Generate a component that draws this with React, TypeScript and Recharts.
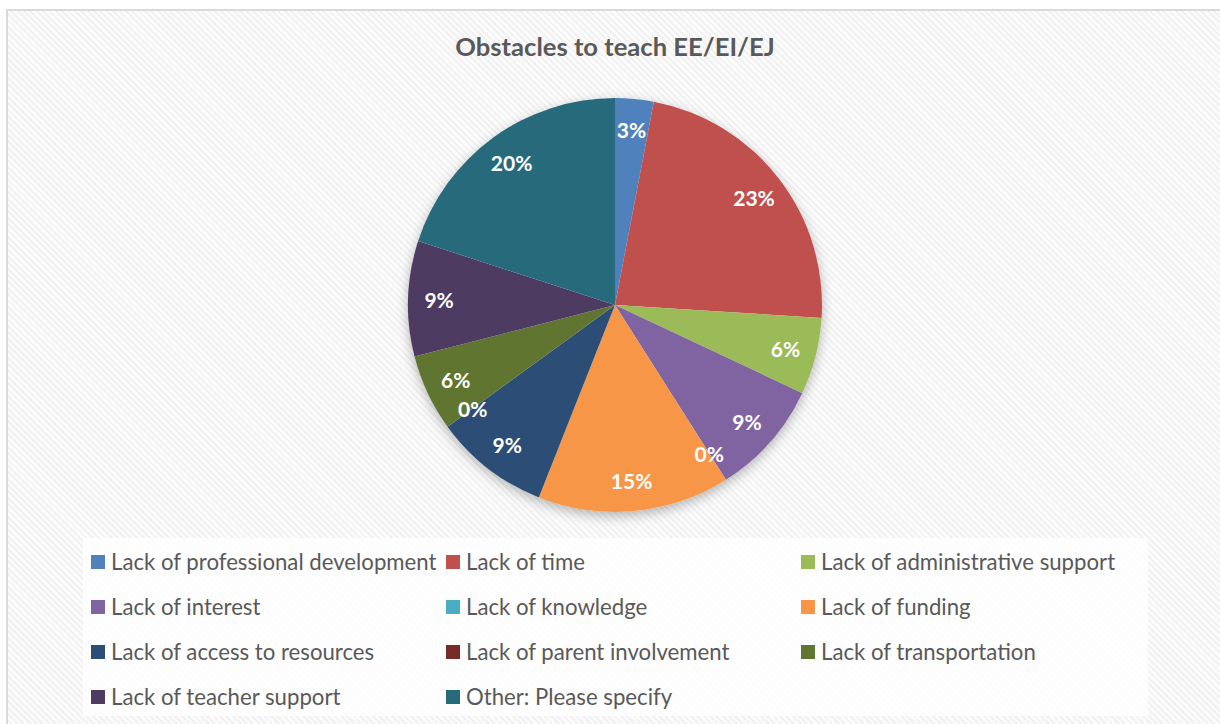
import React from "react";
import { PieChart, Pie, Cell, Legend } from "recharts";

const categories = [
  "Lack of professional development",
  "Lack of time",
  "Lack of administrative support",
  "Lack of interest",
  "Lack of knowledge",
  "Lack of funding",
  "Lack of access to resources",
  "Lack of parent involvement",
  "Lack of transportation",
  "Lack of teacher support",
  "Other: Please specify",
];
const percentages = [3, 23, 6, 9, 0, 15, 9, 0, 6, 9, 20];
const colors = [
  "#4F81BD",
  "#C0504D",
  "#9BBB59",
  "#8064A2",
  "#4BACC6",
  "#F79646",
  "#2C4D75",
  "#772C2A",
  "#5F7530",
  "#4D3B62",
  "#276A7C",
];
const title = "Obstacles to teach EE/EI/EJ";

const data = categories.map((name, i) => ({ name, value: percentages[i] }));

const FONT = "Lato, 'Open Sans', sans-serif";
const RAD = Math.PI / 180;

const CX = 615;
const CY = 305;
const R = 207;

const renderLabel = (props: any) => {
  const { cx, cy, midAngle, outerRadius, value } = props;
  const r = outerRadius * 0.85;
  const x = cx + r * Math.cos(-midAngle * RAD);
  const y = cy + r * Math.sin(-midAngle * RAD);
  return (
    <text
      x={x}
      y={y}
      fill="#FFFFFF"
      textAnchor="middle"
      dominantBaseline="central"
      fontFamily={FONT}
      fontWeight={700}
      fontSize={21}
    >
      {`${value}%`}
    </text>
  );
};

const LegendContent = () => (
  <div
    style={{
      display: "grid",
      gridTemplateColumns: "355px 355px 355px",
      gridAutoRows: "45px",
      fontFamily: FONT,
      fontSize: 22.2,
      color: "#595959",
    }}
  >
    {categories.map((c, i) => (
      <div key={c} style={{ display: "flex", alignItems: "center", height: 45, whiteSpace: "nowrap" }}>
        <span
          style={{
            display: "inline-block",
            width: 14,
            height: 14,
            background: colors[i],
            marginRight: 6,
          }}
        />
        <span>{c}</span>
      </div>
    ))}
  </div>
);

export default function App() {
  return (
    <div
      style={{
        position: "absolute",
        left: 0,
        top: 0,
        width: 1220,
        height: 724,
        overflow: "hidden",
        background: "#ffffff",
      }}
    >
      <div
        style={{
          position: "absolute",
          left: 6,
          top: 9,
          width: 1300,
          height: 800,
          border: "2px solid #d9d9d9",
          background:
            "repeating-linear-gradient(45deg, #f1f1f1 0px, #f1f1f1 2px, #fbfbfb 2px, #fbfbfb 4.5px)",
        }}
      />
      <div
        style={{
          position: "absolute",
          left: 83,
          top: 538,
          width: 1065,
          height: 178,
          background: "rgba(255,255,255,0.75)",
        }}
      />
      <div
        style={{
          position: "absolute",
          left: CX - R,
          top: CY - R,
          width: 2 * R,
          height: 2 * R,
          borderRadius: "50%",
          boxShadow: "0 4px 12px rgba(0,0,0,0.28)",
        }}
      />
      <div
        style={{
          position: "absolute",
          left: 0,
          top: 31,
          width: 1230,
          textAlign: "center",
          fontFamily: FONT,
          fontWeight: 700,
          fontSize: 25.6,
          color: "#595959",
        }}
      >
        {title}
      </div>
      <div style={{ position: "absolute", left: 0, top: 0 }}>
        <PieChart width={1220} height={724} margin={{ top: 0, right: 0, bottom: 0, left: 0 }}>
          <Pie
            data={data}
            dataKey="value"
            nameKey="name"
            cx={CX}
            cy={CY}
            outerRadius={R}
            startAngle={90}
            endAngle={-270}
            stroke="none"
            label={renderLabel}
            labelLine={false}
            isAnimationActive={false}
          >
            {data.map((d, i) => (
              <Cell key={d.name} fill={colors[i]} />
            ))}
          </Pie>
          <Legend
            content={<LegendContent />}
            wrapperStyle={{ position: "absolute", left: 91, top: 539, width: 1065 }}
          />
        </PieChart>
      </div>
    </div>
  );
}
